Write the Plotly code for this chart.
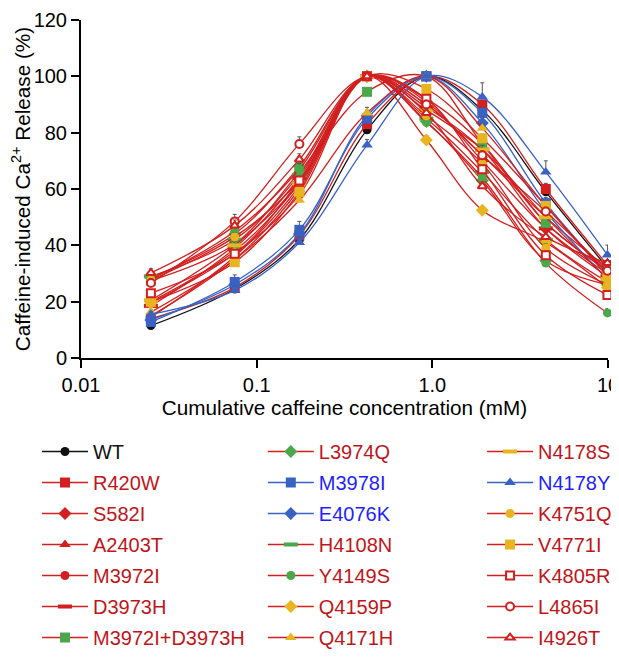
import plotly.graph_objects as go

# cumulative caffeine concentration (mM)
conc = [0.025, 0.075, 0.175, 0.425, 0.925, 1.925, 4.425, 9.925]

# Ca2+ release (% of max) per mutant
WT = [11.5, 24.5, 42, 81, 100, 88, 59, 32]
R420W = [14, 25, 43.5, 83, 100, 90, 60, 33]
S582I = [20, 38, 62, 100, 91, 70, 46, 30]
A2403T = [15, 35, 60, 100, 90, 72, 50, 32]
M3972I = [14.5, 36, 61, 100, 92, 76, 48, 31]
D3973H = [18.5, 39, 64, 100, 89, 74, 46, 29]
M3972I_D3973H = [27.5, 40.5, 66, 94.5, 100, 76, 48, 31]
L3974Q = [28.5, 44, 68, 100, 84, 63, 34.5, 26]
M3978I = [12.8, 27, 45.5, 85, 100, 87, 55, 30]
E4076K = [13.5, 26, 44, 86, 100, 83.4, 52, 28]
H4108N = [29, 42, 65, 100, 85, 66, 42, 27]
Y4149S = [28, 45, 67, 100, 83.7, 64, 33.7, 16]
Q4159P = [19.5, 37, 58, 100, 77.4, 52.5, 41, 25]
Q4171H = [16.3, 35, 56, 87, 100, 81.6, 54, 30]
N4178S = [20.5, 40, 62, 100, 88, 74, 50, 28]
N4178Y = [15.5, 24, 41, 75.6, 100, 92.7, 66, 36.6]
K4751Q = [27.7, 43, 63, 100, 86, 69, 39, 26]
V4771I = [20, 34, 59, 100, 95.5, 78, 54, 29]
K4805R = [23, 37, 63, 100, 92, 67, 36.5, 22.4]
L4865I = [26.6, 48.5, 76, 100, 90, 72, 52, 31]
I4926T = [30.2, 47, 70.5, 100, 87, 61, 43, 33.7]

# SEM (upper bars only)
WT_err = [1, 1.5, 4, 3, 0, 2, 2.5, 2]
R420W_err = [1, 1, 2, 2, 0, 1.5, 2, 1.5]
S582I_err = [1, 1.5, 1.5, 0, 1.5, 1.5, 1.5, 1]
A2403T_err = [1, 1.5, 1.5, 0, 1.5, 2, 1.5, 1]
M3972I_err = [1, 1.5, 1.5, 0, 1.5, 1.5, 1.5, 1]
D3973H_err = [1, 1.5, 1.5, 0, 1.5, 1.5, 1.5, 1]
M3972I_D3973H_err = [1.5, 2, 2, 1.5, 0, 1.5, 1.5, 1]
L3974Q_err = [1.5, 1.5, 2, 0, 1.5, 1.5, 1.5, 1]
M3978I_err = [1, 2.5, 3, 2, 0, 2, 2, 1.5]
E4076K_err = [1, 1.5, 2, 2, 0, 2, 2, 1.5]
H4108N_err = [1.5, 1.5, 2, 0, 1.5, 1.5, 1.5, 1]
Y4149S_err = [1.5, 2, 2, 0, 1.5, 1.5, 1.5, 1.5]
Q4159P_err = [1, 1.5, 1.5, 0, 1.5, 1, 1.5, 1]
Q4171H_err = [1, 1.5, 2, 2, 0, 1.5, 1.5, 1]
N4178S_err = [1, 1.5, 1.5, 0, 1.5, 1.5, 1.5, 1]
N4178Y_err = [1, 1.5, 2, 2, 0, 5, 4, 3.5]
K4751Q_err = [1, 1.5, 1.5, 0, 1.5, 1.5, 1.5, 1]
V4771I_err = [1, 1.5, 1.5, 0, 1.5, 1.5, 1.5, 1]
K4805R_err = [1, 1.5, 1.5, 0, 1.5, 1.5, 1.5, 1]
L4865I_err = [1.5, 2.5, 2.5, 0, 1.5, 1.5, 1.5, 1]
I4926T_err = [1.5, 2, 2, 0, 1.5, 1.5, 1.5, 1]

RED = '#d21f1f'
BLUE = '#3a62c4'
GREEN = '#4aa84a'
YELLOW = '#e8b420'
BLACK = '#111111'
RED_TXT = '#c0161b'
BLUE_TXT = '#1f1fff'

# name, values, errors, line colour, marker symbol, marker colour, open?, text colour, legend column
series = [
    ('WT', WT, WT_err, BLACK, 'circle', BLACK, False, BLACK, 'legend'),
    ('R420W', R420W, R420W_err, RED, 'square', RED, False, RED_TXT, 'legend'),
    ('S582I', S582I, S582I_err, RED, 'diamond', RED, False, RED_TXT, 'legend'),
    ('A2403T', A2403T, A2403T_err, RED, 'triangle-up', RED, False, RED_TXT, 'legend'),
    ('M3972I', M3972I, M3972I_err, RED, 'circle', RED, False, RED_TXT, 'legend'),
    ('D3973H', D3973H, D3973H_err, RED, 'line-ew', RED, False, RED_TXT, 'legend'),
    ('M3972I+D3973H', M3972I_D3973H, M3972I_D3973H_err, RED, 'square', GREEN, False, RED_TXT, 'legend'),
    ('L3974Q', L3974Q, L3974Q_err, RED, 'diamond', GREEN, False, RED_TXT, 'legend2'),
    ('M3978I', M3978I, M3978I_err, BLUE, 'square', BLUE, False, BLUE_TXT, 'legend2'),
    ('E4076K', E4076K, E4076K_err, BLUE, 'diamond', BLUE, False, BLUE_TXT, 'legend2'),
    ('H4108N', H4108N, H4108N_err, RED, 'line-ew', GREEN, False, RED_TXT, 'legend2'),
    ('Y4149S', Y4149S, Y4149S_err, RED, 'circle', GREEN, False, RED_TXT, 'legend2'),
    ('Q4159P', Q4159P, Q4159P_err, RED, 'diamond', YELLOW, False, RED_TXT, 'legend2'),
    ('Q4171H', Q4171H, Q4171H_err, RED, 'triangle-up', YELLOW, False, RED_TXT, 'legend2'),
    ('N4178S', N4178S, N4178S_err, RED, 'line-ew', YELLOW, False, RED_TXT, 'legend3'),
    ('N4178Y', N4178Y, N4178Y_err, BLUE, 'triangle-up', BLUE, False, BLUE_TXT, 'legend3'),
    ('K4751Q', K4751Q, K4751Q_err, RED, 'circle', YELLOW, False, RED_TXT, 'legend3'),
    ('V4771I', V4771I, V4771I_err, RED, 'square', YELLOW, False, RED_TXT, 'legend3'),
    ('K4805R', K4805R, K4805R_err, RED, 'square', RED, True, RED_TXT, 'legend3'),
    ('L4865I', L4865I, L4865I_err, RED, 'circle', RED, True, RED_TXT, 'legend3'),
    ('I4926T', I4926T, I4926T_err, RED, 'triangle-up', RED, True, RED_TXT, 'legend3'),
]

fig = go.Figure()

for name, vals, err, lc, sym, mc, hollow, tc, leg in series:
    if sym == 'line-ew':
        marker = dict(symbol='line-ew', size=10, line=dict(color=mc, width=4))
    elif hollow:
        marker = dict(symbol=sym, size=8, color='white', line=dict(color=mc, width=2))
    else:
        marker = dict(symbol=sym, size=10 if sym != 'circle' else 9, color=mc, line=dict(width=0))
    fig.add_trace(go.Scatter(
        x=conc, y=vals,
        mode='lines+markers',
        line=dict(color=lc, width=1.3, shape='spline', smoothing=1),
        marker=marker,
        error_y=dict(type='data', symmetric=False, array=err, arrayminus=[0] * len(err),
                     color='#555555', thickness=1, width=2),
        name='<span style="color:%s">%s</span>' % (tc, name),
        legend=leg,
        legendgroup=name,
        cliponaxis=False,
    ))

leg_font = dict(family='Liberation Sans, Arial, sans-serif', size=20)
leg_common = dict(font=leg_font, yanchor='top', y=-0.219, xanchor='left',
                  tracegroupgap=2, itemwidth=46, bgcolor='rgba(0,0,0,0)')

# page body has an 8px margin on every side, so the figure is 16px shorter
# and 8px narrower than the window to avoid any page overflow
fig.update_layout(
    width=611, height=643,
    margin=dict(l=73, r=11, t=12, b=293, autoexpand=False),
    paper_bgcolor='white', plot_bgcolor='white',
    font=dict(family='Liberation Sans, Arial, sans-serif', color='black'),
    legend=dict(x=-0.0835, **leg_common),
    legend2=dict(x=0.345, **leg_common),
    legend3=dict(x=0.761, **leg_common),
    xaxis=dict(
        type='log', range=[-2, 1],
        tickvals=[0.01, 0.1, 1, 10], ticktext=['0.01', '0.1', '1.0', '10'],
        ticklabeloverflow='allow',
        showline=True, linecolor='black', linewidth=2,
        ticks='outside', ticklen=8, tickwidth=2, tickcolor='black',
        showgrid=False, zeroline=False,
        tickfont=dict(size=20),
        title=dict(text='Cumulative caffeine concentration (mM)', font=dict(size=20.7), standoff=2),
    ),
    yaxis=dict(
        range=[0, 120], dtick=20,
        showline=True, linecolor='black', linewidth=2,
        ticks='outside', ticklen=8, tickwidth=2, tickcolor='black',
        showgrid=False, zeroline=False,
        tickfont=dict(size=20),
        title=dict(text='Caffeine-induced Ca<sup>2+</sup> Release (%)', font=dict(size=20.7), standoff=2),
    ),
)

fig.write_html("out.html")
